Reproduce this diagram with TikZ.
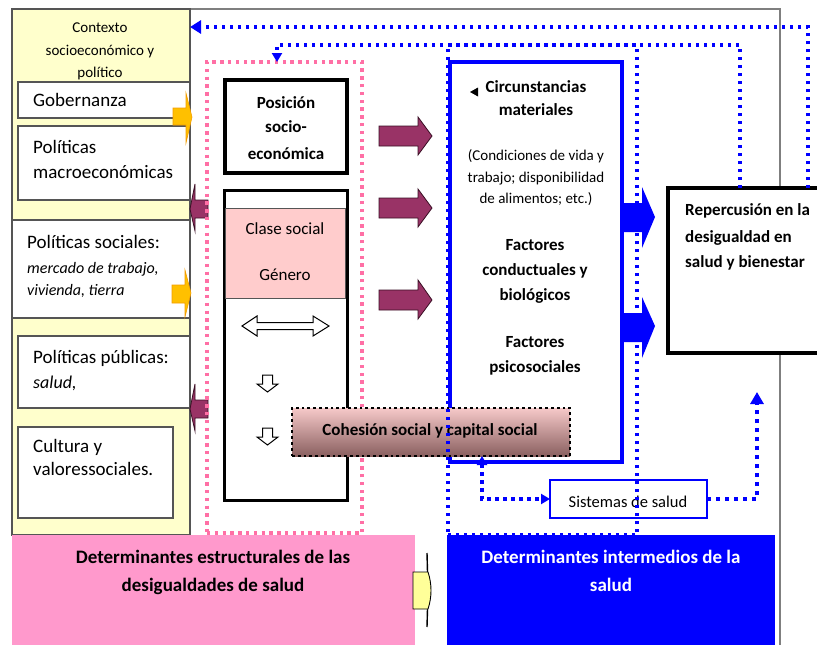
\documentclass[tikz,border=0pt]{standalone}
\usepackage{fontspec}
\setmainfont{Carlito}
\usetikzlibrary{arrows.meta,calc}
\definecolor{ylw}{HTML}{FFFFCC}
\definecolor{ydark}{HTML}{555555}
\definecolor{gold}{HTML}{FFC000}
\definecolor{goldline}{HTML}{F39C00}
\definecolor{plum}{HTML}{993366}
\definecolor{plumdark}{HTML}{3A0F24}
\definecolor{pinkbox}{HTML}{FF99CC}
\definecolor{pinkdot}{HTML}{FF6FA5}
\definecolor{rose}{HTML}{FFCCCC}
\definecolor{framegray}{HTML}{7F7F7F}
\definecolor{bblue}{HTML}{0000FF}
\definecolor{lightyel}{HTML}{FFFF99}
\definecolor{cohtop}{HTML}{F6C9C9}
\definecolor{cohbot}{HTML}{8A6060}
\begin{document}
\begin{tikzpicture}[x=1pt,y=-1pt,
  box/.style={inner sep=0pt, outer sep=0pt, anchor=north west},
  lbox/.style={box, draw=ydark, fill=white, line width=1.5pt},
  tx/.style={inner sep=0pt, text=black},
  fn/.style={font=\fontsize{#1}{#1}\selectfont},
  fb/.style={font=\fontsize{#1}{#1}\selectfont\bfseries},
  fi/.style={font=\fontsize{#1}{#1}\selectfont\itshape},
  bdot/.style={draw=bblue, line width=3.4pt, dash pattern=on 3.4pt off 4.6pt},
  bdotb/.style={draw=bblue, line width=4.2pt, dash pattern=on 4.2pt off 4.8pt},
  pdot/.style={draw=pinkdot, line width=3.4pt, dash pattern=on 3.4pt off 4.4pt},
  plumarrow/.style={fill=plum, draw=plumdark, line width=0.8pt},
  goldarrow/.style={fill=gold, draw=goldline, line width=0.6pt},
  outarrow/.style={fill=white, draw=black, line width=1pt},
  btip/.style={-{Triangle[length=11pt,width=13pt]}}
]
\useasboundingbox (0,0) rectangle (817,645);

% outer gray frame
\draw[framegray, line width=1.6pt] (12,9) -- (780,9) -- (780,645);

% context column
\node[box, draw=ydark, fill=ylw, line width=1.5pt, minimum width=178pt, minimum height=526pt] (ctx) at (12,9) {};
\node[tx,fn=15,anchor=base] (c1) at (100,32) {Contexto};
\node[tx,fn=15,anchor=base] (c2) at (100,55) {socioeconómico y};
\node[tx,fn=15,anchor=base] (c3) at (100,77) {político};

\node[lbox, minimum width=172pt, minimum height=36pt] (gob) at (18,82) {};
\node[lbox, minimum width=172pt, minimum height=74pt] (mac) at (18,126) {};
\node[lbox, minimum width=178pt, minimum height=98pt] (soc) at (12,220) {};
\node[lbox, minimum width=172pt, minimum height=72pt] (pub) at (18,336) {};
\node[lbox, minimum width=155pt, minimum height=91pt] (cul) at (18,427) {};

\node[tx,fn=19,anchor=base west] (gobt) at (33,106) {Gobernanza};
\node[tx,fn=19,anchor=base west] (mac1) at (33,153) {Políticas};
\node[tx,fn=19,anchor=base west] (mac2) at (33,178) {macroeconómicas};
\node[tx,fn=19,anchor=base west] (soc1) at (27,248) {Políticas sociales:};
\node[tx,fi=16,anchor=base west] (soc2) at (27,273) {mercado de trabajo,};
\node[tx,fi=16,anchor=base west] (soc3) at (27,295) {vivienda, tierra};
\node[tx,fn=19,anchor=base west] (pub1) at (33,363) {Políticas públicas:};
\node[tx,fi=18,anchor=base west] (pub2) at (33,388) {salud,};
\node[tx,fn=19,anchor=base west] (cul1) at (33,452) {Cultura y};
\node[tx,fn=19,anchor=base west] (cul2) at (33,475) {valoressociales.};

% gold arrows
\filldraw[goldarrow] (173,108) -- (186,108) -- (186,93) -- (192,117) -- (186,143) -- (186,125) -- (173,125) -- cycle;
\filldraw[goldarrow] (172,285) -- (185,285) -- (185,270) -- (191,293) -- (185,317) -- (185,303) -- (172,303) -- cycle;

% plum left arrows
\filldraw[plumarrow] (208,200) -- (195,200) -- (195,184) -- (190,209) -- (195,231) -- (195,218) -- (208,218) -- cycle;
\filldraw[plumarrow] (208,400) -- (195,400) -- (195,384) -- (190,409) -- (195,431) -- (195,418) -- (208,418) -- cycle;

% structural dotted frame
\node[box, pdot, minimum width=155pt, minimum height=471pt] (struct) at (207,62) {};

% position boxes
\node[box, draw=black, fill=white, line width=3.2pt, minimum width=122pt, minimum height=93pt] (pos) at (225,80) {};
\node[tx,fb=17,anchor=base] (pos1) at (286,108) {Posición};
\node[tx,fb=17,anchor=base] (pos2) at (286,132) {socio-};
\node[tx,fb=17,anchor=base] (pos3) at (286,159) {económica};

\node[box, draw=black, fill=white, line width=3pt, minimum width=123pt, minimum height=310pt] (clase) at (224,190) {};
\node[box, draw=ydark, fill=rose, line width=0.8pt, minimum width=120pt, minimum height=90pt] (rosebox) at (225.5,208) {};
\node[tx,fn=17,anchor=base] (cl1) at (285,234) {Clase social};
\node[tx,fn=17,anchor=base] (cl2) at (285,280) {Género};

\filldraw[outarrow] (242,326) -- (257,316) -- (257,322.5) -- (313,322.5) -- (313,316) -- (329,326) -- (313,336) -- (313,329.5) -- (257,329.5) -- (257,336) -- cycle;
\filldraw[outarrow] (262.5,375) -- (272.5,375) -- (272.5,384) -- (278,384) -- (267.5,392) -- (257,384) -- (262.5,384) -- cycle;
\filldraw[outarrow] (262.5,428) -- (272.5,428) -- (272.5,437) -- (278,437) -- (267.5,445) -- (257,437) -- (262.5,437) -- cycle;

% plum right arrows
\filldraw[plumarrow] (379,126) -- (418,126) -- (418,117) -- (432,136) -- (418,155) -- (418,146) -- (379,146) -- cycle;
\filldraw[plumarrow] (379,198) -- (418,198) -- (418,189) -- (432,208) -- (418,227) -- (418,218) -- (379,218) -- cycle;
\filldraw[plumarrow] (379,290) -- (418,290) -- (418,280) -- (432,300) -- (418,319) -- (418,310) -- (379,310) -- cycle;

% intermediate blue box
\node[box, draw=bblue, line width=3.5pt, minimum width=172pt, minimum height=400pt] (inter) at (450,62) {};
\fill[black] (470,92) -- (478,87.5) -- (478,96.5) -- cycle;
\node[tx,fb=17,anchor=base] (ci1) at (536,92) {Circunstancias};
\node[tx,fb=17,anchor=base] (ci2) at (536,115) {materiales};
\node[tx,fn=15,anchor=base] (co1) at (536,160) {(Condiciones de vida y};
\node[tx,fn=15,anchor=base] (co2) at (536,182) {trabajo; disponibilidad};
\node[tx,fn=15,anchor=base] (co3) at (536,203) {de alimentos; etc.)};
\node[tx,fb=17,anchor=base] (fa1) at (535,250) {Factores};
\node[tx,fb=17,anchor=base] (fa2) at (535,275) {conductuales y};
\node[tx,fb=17,anchor=base] (fa3) at (535,300) {biológicos};
\node[tx,fb=17,anchor=base] (ps1) at (535,347) {Factores};
\node[tx,fb=17,anchor=base] (ps2) at (535,372) {psicosociales};

% blue block arrows
\fill[bblue] (622,203) -- (642,203) -- (642,187) -- (655,217) -- (642,248) -- (642,232) -- (622,232) -- cycle;
\fill[bblue] (622,313) -- (642,313) -- (642,297) -- (655,326) -- (642,358) -- (642,342) -- (622,342) -- cycle;

% outcome box
\node[box, draw=black, fill=white, line width=3.5pt, minimum width=160pt, minimum height=165pt] (rep) at (668,188) {};
\node[tx,fb=17,anchor=base west] (re1) at (685,215) {Repercusión en la};
\node[tx,fb=17,anchor=base west] (re2) at (685,242) {desigualdad en};
\node[tx,fb=17,anchor=base west] (re3) at (685,267) {salud y bienestar};

% social cohesion
\node[box, top color=cohtop, bottom color=cohbot, draw=black, line width=2.8pt, dash pattern=on 2.8pt off 3pt, minimum width=278pt, minimum height=48pt] (coh) at (292,408) {};
\node[tx,fb=17,anchor=base] (coht) at (430,435) {Cohesión social y capital social};

% health systems
\node[box, draw=bblue, fill=white, line width=1.8pt, minimum width=157pt, minimum height=38pt] (sis) at (550,480) {};
\node[tx,fn=16.5,anchor=base] (sist) at (628,507) {Sistemas de salud};

% intermediate dotted frame
\node[box, bdot, minimum width=189pt, minimum height=490pt] (interdot) at (448,45) {};

% dotted feedback connectors
\draw[bdot, btip] (808,0 |- rep.north) |- (ctx.east |- 0,27);
\draw[bdot, -{Triangle[length=9pt,width=10pt]}] (740,0 |- rep.north) |- (277,45) -- (277,0 |- struct.north);
\draw[bdot, {Triangle[length=9pt,width=10pt]}-{Triangle[length=9pt,width=10pt]}] (482,0 |- coh.south) |- (sis.west);
\coordinate (uptip) at (757,392);
\draw[bdotb, -{Triangle[length=12pt,width=13pt]}] (sis.east) -| (uptip);

% bottom labels
\node[box, fill=pinkbox, minimum width=403pt, minimum height=115pt] (estr) at (12,535) {};
\node[tx,fb=19,anchor=base] (es1) at (213,563) {Determinantes estructurales de las};
\node[tx,fb=19,anchor=base] (es2) at (213,591) {desigualdades de salud};
\node[box, fill=bblue, minimum width=328pt, minimum height=115pt] (inte) at (447,535) {};
\node[tx,fb=19,anchor=base,text=white] (in1) at (611,563) {Determinantes intermedios de la};
\node[tx,fb=19,anchor=base,text=white] (in2) at (611,591) {salud};

% small yellow arrow between labels
\draw[black, line width=1.4pt] (427,553) -- (427.5,572) (427.5,609) -- (427,627);
\filldraw[fill=lightyel, draw=black, line width=0.9pt] (413,572) -- (428,572) .. controls (432,584) and (432,597) .. (428,609) -- (413,609) -- cycle;
\end{tikzpicture}
\end{document}
